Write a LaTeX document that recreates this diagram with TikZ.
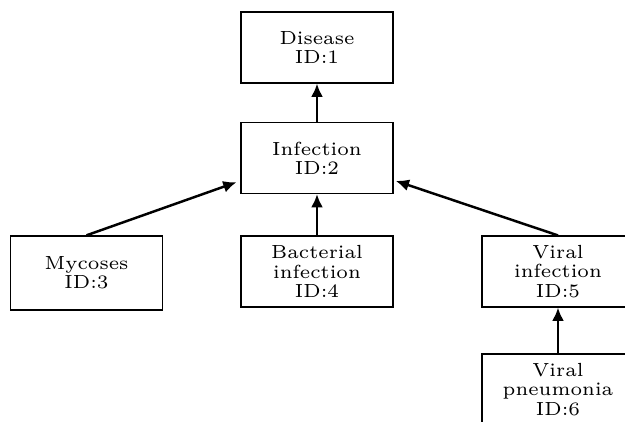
\documentclass[tikz,border=0pt]{standalone}
\usetikzlibrary{arrows.meta}
\begin{document}
\begin{tikzpicture}[x=0.316pt,y=-0.316pt,
  concept/.style={draw=black,line width=0.42pt,rectangle,align=center,
    minimum width=48pt,minimum height=22.4pt,inner sep=0pt,
    font=\fontsize{6}{6.05}\selectfont},
  isa/.style={line width=0.78pt,-{Latex[length=4.2pt,width=3.8pt]}}]
  \path[use as bounding box,clip] (0,0) rectangle (625,421);
  % boxes of the hierarchy
  \node[concept] (dis) at (317,47.5) {Disease\\ID:1};
  \node[concept] (inf) at (317,158) {Infection\\ID:2};
  \node[concept,minimum height=23.4pt] (myc) at (86.5,273) {Mycoses\\ID:3};
  \node[concept] (bac) at (317,271.5) {Bacterial\\infection\\ID:4};
  \node[concept] (vir) at (558,271.5) {Viral\\infection\\ID:5};
  \node[concept] (pne) at (558,389.5) {Viral\\pneumonia\\ID:6};
  % is-a links
  \draw[isa] (inf.north) -- (dis.south);
  \draw[isa] (bac.north) -- (inf.south);
  \draw[isa,shorten >=1.3pt] (myc.north) -- ([yshift=-7.2pt]inf.west);
  \draw[isa,shorten >=0.7pt] (vir.north) -- ([yshift=-7pt]inf.east);
  \draw[isa] (pne.north) -- (vir.south);
\end{tikzpicture}
\end{document}
